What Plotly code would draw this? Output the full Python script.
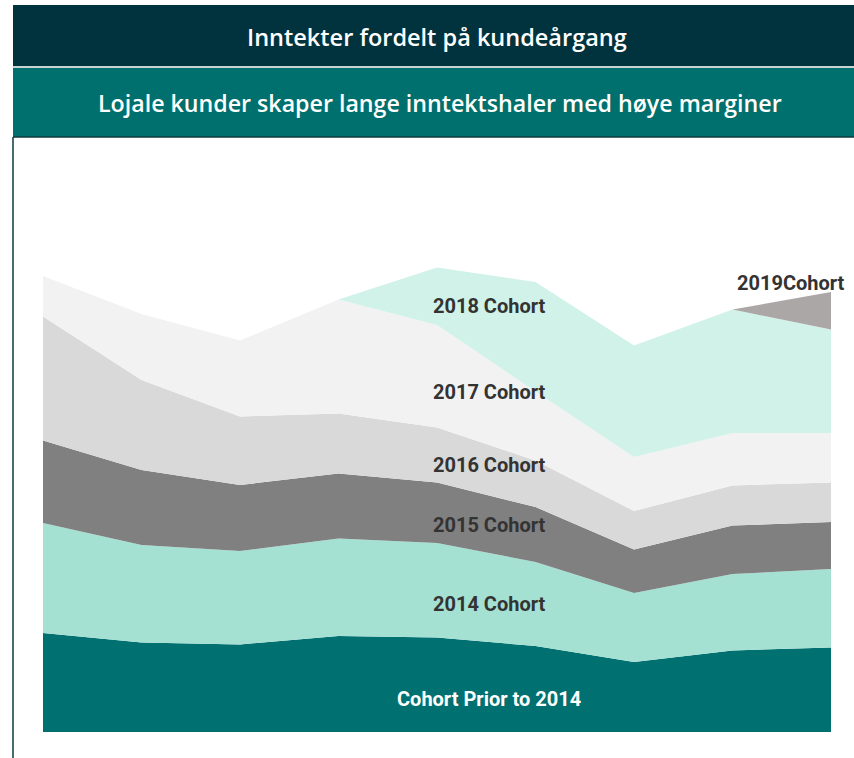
"""
Stacked area chart: revenue split by customer cohort.
"""
import plotly.graph_objects as go

# x positions (periods) and cohort revenue
periods = [0, 1, 2, 3, 4, 5, 6, 7, 8]
prior_2014 = [19.8, 17.9, 17.5, 19.2, 18.9, 17.2, 14.0, 16.3, 16.9]
cohort_2014 = [22.0, 19.5, 18.7, 19.5, 18.9, 16.8, 13.8, 15.3, 15.7]
cohort_2015 = [16.5, 15.0, 13.2, 13.0, 12.1, 11.0, 8.7, 9.7, 9.4]
cohort_2016 = [24.8, 18.0, 13.7, 12.0, 11.0, 9.3, 7.7, 8.0, 7.9]
cohort_2017 = [8.1, 13.2, 15.2, 22.8, 20.5, 13.8, 10.8, 10.5, 9.9]
cohort_2018 = [0, 0, 0, 0, 11.5, 21.9, 22.3, 24.7, 20.7]
cohort_2019 = [0, 0, 0, 0, 0, 0, 0, 0, 7.5]

series = [
    ("Cohort Prior to 2014", prior_2014, "#007070"),
    ("2014 Cohort", cohort_2014, "#a4e1d3"),
    ("2015 Cohort", cohort_2015, "#808080"),
    ("2016 Cohort", cohort_2016, "#d9d9d9"),
    ("2017 Cohort", cohort_2017, "#f2f2f2"),
    ("2018 Cohort", cohort_2018, "#d0f2e8"),
    ("2019Cohort", cohort_2019, "#aba7a7"),
]

W, H = 854, 758
ML, MR, MT, MB = 43, 23, 141, 26
PW, PH = W - ML - MR, H - MT - MB

LABEL_FONT = "Roboto, Open Sans, sans-serif"


def px(x):
    return (x - ML) / PW


def py(y):
    return (H - MB - y) / PH


fig = go.Figure()
for name, vals, color in series:
    fig.add_trace(go.Scatter(
        x=periods, y=vals, name=name, mode="lines",
        stackgroup="one", line=dict(width=0, color=color),
        fillcolor=color, hoverinfo="skip"
    ))

# header bars
fig.add_shape(type="rect", xref="paper", yref="paper",
              x0=px(13), x1=px(854), y0=py(66), y1=py(5),
              fillcolor="#00333d", line=dict(width=0), layer="below")
fig.add_shape(type="line", xref="paper", yref="paper",
              x0=px(13), x1=px(854), y0=py(67), y1=py(67),
              line=dict(color="#b8c4c4", width=1.5))
fig.add_shape(type="rect", xref="paper", yref="paper",
              x0=px(13), x1=px(854), y0=py(137), y1=py(68),
              fillcolor="#00706e", line=dict(width=0), layer="below")
fig.add_shape(type="line", xref="paper", yref="paper",
              x0=px(13), x1=px(854), y0=py(137), y1=py(137),
              line=dict(color="#0b3b40", width=1.5))
fig.add_shape(type="line", xref="paper", yref="paper",
              x0=px(13), x1=px(13), y0=py(137), y1=py(758),
              line=dict(color="#0b3b40", width=1.5))

fig.add_annotation(x=px(437), y=py(37), xref="paper", yref="paper",
                   xanchor="center", yanchor="middle",
                   text="Inntekter fordelt på kundeårgang", showarrow=False,
                   font=dict(family="Open Sans", size=23.5, color="white", weight=600))
fig.add_annotation(x=px(440), y=py(103), xref="paper", yref="paper",
                   xanchor="center", yanchor="middle",
                   text="Lojale kunder skaper lange inntektshaler med høye marginer",
                   showarrow=False,
                   font=dict(family="Open Sans", size=23.2, color="white", weight=600))

# cohort labels
labels = [
    ("2018 Cohort", 306, "#333333"),
    ("2017 Cohort", 392, "#333333"),
    ("2016 Cohort", 465, "#333333"),
    ("2015 Cohort", 525, "#333333"),
    ("2014 Cohort", 604, "#333333"),
    ("Cohort Prior to 2014", 699, "white"),
]
for text, ypix, color in labels:
    fig.add_annotation(x=px(489), y=py(ypix), xref="paper", yref="paper",
                       xanchor="center", yanchor="middle",
                       text=text, showarrow=False,
                       font=dict(family=LABEL_FONT, size=20, color=color, weight=700))
fig.add_annotation(x=px(791), y=py(283), xref="paper", yref="paper",
                   xanchor="center", yanchor="middle",
                   text="2019Cohort", showarrow=False,
                   font=dict(family=LABEL_FONT, size=20, color="#333333", weight=700))

fig.update_layout(
    width=W, height=H,
    margin=dict(l=ML, r=MR, t=MT, b=MB),
    paper_bgcolor="white", plot_bgcolor="white",
    showlegend=False,
    xaxis=dict(range=[0, 8], visible=False, fixedrange=True),
    yaxis=dict(range=[0, PH / 5], visible=False, fixedrange=True),
)

# page body has an 8px default margin; drop it so the figure sits at 0,0
fig.write_html("out.html", config={"displayModeBar": False},
               post_script="document.body.style.margin='0';")
